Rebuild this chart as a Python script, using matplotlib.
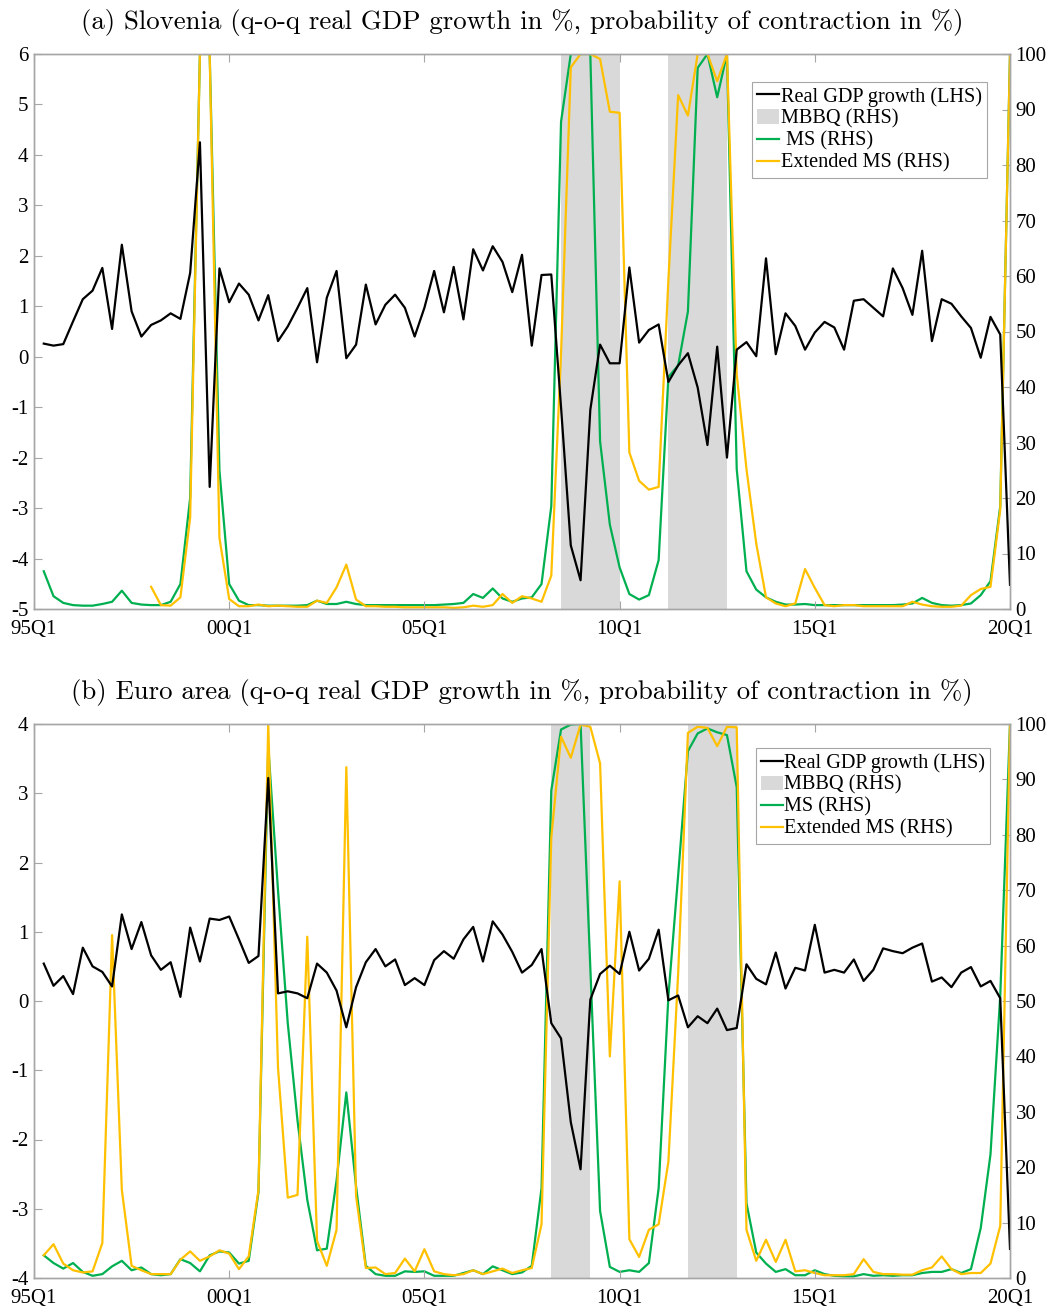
import numpy as np
import matplotlib.pyplot as plt
from matplotlib.patches import Patch
from matplotlib.lines import Line2D

plt.rcParams['font.family'] = ['Liberation Serif', 'DejaVu Serif']
plt.rcParams['axes.unicode_minus'] = False

nan = np.nan
quarters = np.arange(1, 101)  # 1995Q2 .. 2020Q1, 0 = 95Q1
tick_pos = [0, 20, 40, 60, 80, 100]
tick_labels = ["95Q1", "00Q1", "05Q1", "10Q1", "15Q1", "20Q1"]

si_gdp = [0.26, 0.22, 0.25, 0.70, 1.14, 1.31, 1.76, 0.55, 2.22, 0.90,
          0.40, 0.63, 0.72, 0.86, 0.75, 1.66, 4.25, -2.58, 1.75, 1.08,
          1.45, 1.23, 0.72, 1.22, 0.31, 0.60, 0.97, 1.36, -0.11, 1.17,
          1.70, -0.03, 0.24, 1.43, 0.64, 1.03, 1.23, 0.97, 0.40, 0.97,
          1.70, 0.88, 1.78, 0.74, 2.13, 1.71, 2.19, 1.88, 1.28, 2.02,
          0.22, 1.62, 1.63, -1.00, -3.74, -4.43, -1.05, 0.24, -0.13, -0.13,
          1.77, 0.28, 0.53, 0.64, -0.50, -0.17, 0.07, -0.61, -1.75, 0.20,
          -2.00, 0.14, 0.29, 0.01, 1.95, 0.05, 0.86, 0.61, 0.14, 0.48,
          0.69, 0.58, 0.14, 1.11, 1.14, 0.97, 0.80, 1.75, 1.36, 0.83,
          2.10, 0.31, 1.14, 1.05, 0.80, 0.57, -0.02, 0.79, 0.44, -4.52]
si_ms = [6.8, 2.3, 1.1, 0.7, 0.6, 0.6, 0.9, 1.3, 3.3, 1.1,
         0.8, 0.7, 0.7, 1.3, 4.5, 20, 100, 100, 25, 4.5,
         1.5, 0.7, 0.7, 0.6, 0.6, 0.6, 0.6, 0.7, 1.5, 0.9,
         0.9, 1.3, 0.9, 0.7, 0.7, 0.7, 0.7, 0.7, 0.7, 0.7,
         0.7, 0.8, 0.9, 1.1, 2.7, 2.0, 3.7, 1.9, 1.3, 1.9,
         2.1, 4.5, 18.5, 87.8, 100, 100, 100, 30.2, 15.2, 7.5,
         2.7, 1.7, 2.5, 8.8, 41.8, 43.9, 53.6, 97.5, 100, 92.2,
         100, 25.2, 6.8, 3.5, 2.1, 1.3, 0.8, 0.8, 0.9, 0.7,
         0.7, 0.7, 0.7, 0.7, 0.7, 0.7, 0.7, 0.7, 0.8, 1.0,
         2.0, 1.1, 0.7, 0.6, 0.7, 1.0, 2.5, 5.0, 18.5, 100]
si_ext = [nan, nan, nan, nan, nan, nan, nan, nan, nan, nan,
          nan, 4.0, 0.7, 0.6, 2.1, 16.5, 100, 100, 12.8, 1.8,
          0.5, 0.5, 0.8, 0.5, 0.6, 0.5, 0.4, 0.4, 1.5, 1.1,
          3.9, 8.0, 1.7, 0.5, 0.5, 0.4, 0.4, 0.3, 0.3, 0.3,
          0.3, 0.3, 0.2, 0.3, 0.6, 0.4, 0.7, 2.7, 1.1, 2.3,
          1.9, 1.3, 6.0, 46, 97.6, 100, 100, 99.1, 89.6, 89.4,
          28.2, 23.1, 21.5, 22.0, 59.3, 92.6, 88.9, 100, 100, 95.1,
          100, 42.3, 25.2, 11.8, 2.1, 1.0, 0.5, 1.0, 7.2, 3.8,
          0.7, 0.5, 0.7, 0.7, 0.5, 0.5, 0.5, 0.5, 0.5, 1.3,
          0.8, 0.5, 0.4, 0.4, 0.6, 2.5, 3.6, 4.0, 17.9, 100]
si_mbbq = [0] * 54 + [1] * 6 + [0] * 5 + [1] * 6 + [0] * 29

ea_gdp = [0.54, 0.22, 0.36, 0.10, 0.77, 0.50, 0.42, 0.21, 1.25, 0.75,
          1.14, 0.66, 0.45, 0.56, 0.06, 1.06, 0.57, 1.19, 1.17, 1.22,
          0.89, 0.55, 0.65, 3.22, 0.11, 0.14, 0.11, 0.04, 0.54, 0.41,
          0.15, -0.38, 0.20, 0.56, 0.75, 0.50, 0.60, 0.23, 0.33, 0.23,
          0.59, 0.72, 0.61, 0.89, 1.07, 0.57, 1.15, 0.96, 0.71, 0.41,
          0.52, 0.75, -0.32, -0.54, -1.75, -2.43, 0.02, 0.39, 0.51, 0.39,
          1.00, 0.44, 0.61, 1.03, 0.01, 0.08, -0.38, -0.22, -0.32, -0.11,
          -0.42, -0.39, 0.53, 0.32, 0.24, 0.70, 0.18, 0.48, 0.44, 1.10,
          0.41, 0.45, 0.41, 0.60, 0.29, 0.45, 0.76, 0.72, 0.69, 0.77,
          0.83, 0.28, 0.34, 0.20, 0.41, 0.49, 0.21, 0.29, 0.04, -3.58]
ea_ms = [4.1, 2.7, 1.7, 2.7, 1.1, 0.4, 0.7, 2.1, 3.1, 1.4,
         1.9, 0.7, 0.5, 0.7, 3.4, 2.7, 1.2, 4.1, 4.8, 4.6,
         2.6, 3.1, 15.5, 96, 70, 46, 28.4, 14.1, 5.0, 5.3,
         17.6, 33.5, 16.5, 2.2, 0.7, 0.4, 0.4, 1.2, 1.1, 1.2,
         0.4, 0.4, 0.4, 0.9, 1.4, 0.7, 2.1, 1.4, 0.7, 1.0,
         2.2, 16.2, 88, 99, 99.9, 100, 56, 12.1, 2.0, 1.1,
         1.4, 1.1, 2.7, 16.2, 50.9, 72.7, 95.1, 98.3, 99.2, 98.5,
         98.0, 88.6, 13.5, 4.6, 2.6, 1.1, 1.6, 0.5, 0.5, 1.4,
         0.7, 0.4, 0.3, 0.3, 0.7, 0.4, 0.5, 0.4, 0.5, 0.5,
         0.9, 1.1, 1.1, 1.6, 0.9, 1.6, 9.0, 22.3, 50.9, 100]
ea_ext = [4.1, 6.1, 2.6, 1.4, 1.0, 1.2, 6.3, 61.9, 15.9, 2.2,
          1.4, 0.7, 0.7, 0.7, 3.3, 4.8, 3.1, 3.9, 5.0, 4.4,
          1.6, 3.9, 15.9, 100, 38, 14.5, 15.0, 61.6, 6.7, 2.2,
          8.7, 92.2, 14.8, 1.8, 1.9, 0.7, 0.9, 3.5, 1.2, 5.2,
          1.2, 0.7, 0.5, 0.7, 1.4, 0.7, 1.2, 1.7, 0.9, 1.4,
          1.8, 9.7, 79.5, 97.7, 93.9, 99.9, 99.5, 92.9, 40, 71.6,
          7.0, 3.8, 8.7, 9.7, 21, 55, 98.4, 99.5, 99.3, 96,
          99.5, 99.4, 8.7, 3.1, 6.9, 2.9, 6.9, 1.2, 1.4, 0.9,
          0.5, 0.5, 0.5, 0.7, 3.4, 1.1, 0.7, 0.7, 0.6, 0.6,
          1.4, 1.9, 3.9, 1.6, 0.7, 0.9, 0.9, 2.6, 9.4, 100]
ea_mbbq = [0] * 53 + [1] * 4 + [0] * 10 + [1] * 5 + [0] * 28

GREEN = "#00b050"
YELLOW = "#ffc000"
SHADE = "#d9d9d9"
SPINE = "#a6a6a6"

fig = plt.figure(figsize=(10.54, 13.10), dpi=100)
W, H = 1054, 1310


def panel(rect, title, gdp, ms, ext, mbbq, ylim, ms_label, leg_anchor):
    ax = fig.add_axes(rect)
    ax2 = ax.twinx()
    ax.set_zorder(ax2.get_zorder() + 1)
    ax.patch.set_visible(False)

    # recession quarters shaded over (t-1, t]
    ax2.bar(quarters - 1, [100 * v for v in mbbq], width=1.0, align='edge',
            color=SHADE, linewidth=0)
    ax2.plot(quarters, ms, color=GREEN, lw=1.6)
    ax2.plot(quarters, ext, color=YELLOW, lw=1.6)
    ax.plot(quarters, gdp, color="black", lw=1.6)

    ax.set_xlim(0, 100)
    ax.set_ylim(*ylim)
    ax2.set_ylim(0, 100)
    ax.set_yticks(range(ylim[0], ylim[1] + 1))
    ax2.set_yticks(range(0, 101, 10))
    ax.set_xticks(tick_pos)
    ax.set_xticklabels(tick_labels)

    for a in (ax, ax2):
        for s in a.spines.values():
            s.set_color(SPINE)
            s.set_linewidth(1.0)
        a.tick_params(direction='in', length=6, color=SPINE, labelsize=15,
                      labelcolor='black', pad=4)
    ax.tick_params(axis='x', top=True, pad=8)

    ax.set_title(title, family='cmr10', fontsize=19.3, pad=18)

    handles = [Line2D([], [], color='black', lw=1.6),
               Patch(facecolor=SHADE, edgecolor='none'),
               Line2D([], [], color=GREEN, lw=1.6),
               Line2D([], [], color=YELLOW, lw=1.6)]
    labels = ["Real GDP growth (LHS)", "MBBQ (RHS)", ms_label,
              "Extended MS (RHS)"]
    leg = ax.legend(handles, labels, loc='upper right',
                    bbox_to_anchor=leg_anchor, borderaxespad=0,
                    fontsize=14.6, handlelength=1.1, handletextpad=0.05,
                    labelspacing=0.14, borderpad=0.25, fancybox=False,
                    framealpha=1, edgecolor=SPINE)
    leg.get_frame().set_linewidth(0.8)


left = 34 / W
width = (1010 - 34) / W
panel([left, 1 - 609 / H, width, 555 / H],
      "(a) Slovenia (q-o-q real GDP growth in %, probability of contraction in %)",
      si_gdp, si_ms, si_ext, si_mbbq, (-5, 6), " MS (RHS)", (0.976, 0.950))
panel([left, 1 - 1278 / H, width, 554 / H],
      "(b) Euro area (q-o-q real GDP growth in %, probability of contraction in %)",
      ea_gdp, ea_ms, ea_ext, ea_mbbq, (-4, 4), "MS (RHS)", (0.9795, 0.957))

fig.savefig("out.png", dpi=100)
